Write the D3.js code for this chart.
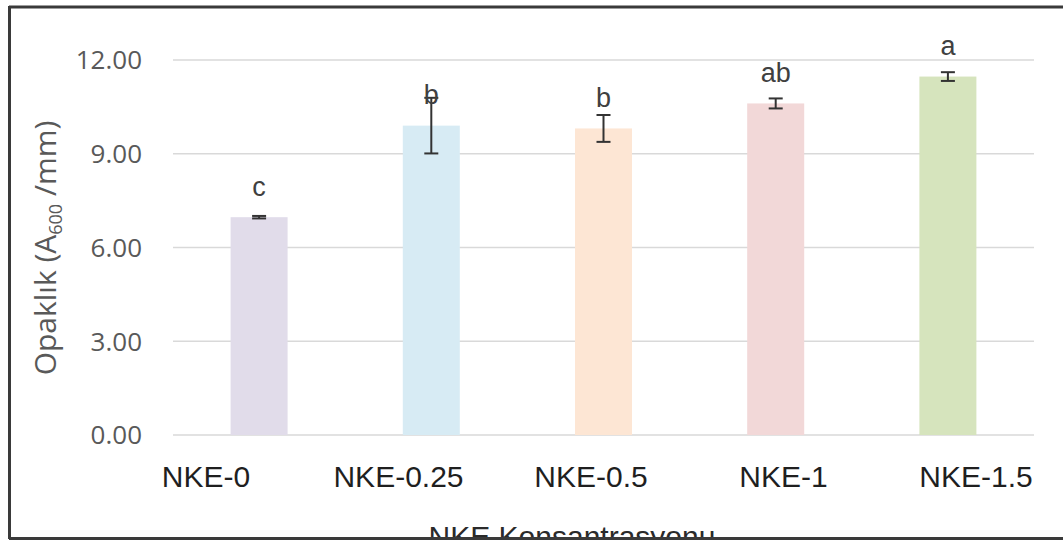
<!DOCTYPE html>
<html>
<head>
<meta charset="utf-8">
<script src="https://cdn.jsdelivr.net/npm/d3@7"></script>
<style>
  html, body { margin: 0; padding: 0; background: #fff; }
  svg { display: block; }
</style>
</head>
<body>
<svg id="chart" width="1063" height="543"></svg>
<script>
// Opacity (A600/mm) by NKE concentration, with standard deviations and significance letters
const categories = ["NKE-0", "NKE-0.25", "NKE-0.5", "NKE-1", "NKE-1.5"];
const means = [6.97, 9.90, 9.81, 10.61, 11.47];
const errors = [0.04, 0.89, 0.43, 0.16, 0.14];
const letters = ["c", "b", "b", "ab", "a"];
const yTicks = [0, 3, 6, 9, 12];
const barColors = ["#e1dcea", "#d7ebf4", "#fde6d4", "#f2d8d8", "#d6e4bd"];

const W = 1063, H = 543;
const plot = { left: 173, right: 1034, top: 60, bottom: 435 };

const svg = d3.select("#chart");

const x = d3.scaleBand()
  .domain(categories)
  .range([plot.left, plot.right])
  .paddingInner(0.669)
  .paddingOuter(0.3345);

const y = d3.scaleLinear()
  .domain([0, 12])
  .range([plot.bottom, plot.top]);

// category labels sit on their own evenly spread positions under the bars
const xLabel = d3.scalePoint()
  .domain(categories)
  .range([206, 976]);

// gridlines
svg.append("g")
  .selectAll("line")
  .data(yTicks)
  .join("line")
  .attr("x1", plot.left)
  .attr("x2", plot.right)
  .attr("y1", d => y(d))
  .attr("y2", d => y(d))
  .attr("stroke", "#d9d9d9")
  .attr("stroke-width", 1.5);

// y tick labels
svg.append("g")
  .selectAll("text")
  .data(yTicks)
  .join("text")
  .attr("x", 142)
  .attr("y", d => y(d))
  .attr("dy", "0.36em")
  .attr("text-anchor", "end")
  .attr("font-family", "'Open Sans', sans-serif")
  .attr("font-size", 26)
  .attr("fill", "#595959")
  .text(d => d3.format(".2f")(d));

// bars
svg.append("g")
  .selectAll("rect")
  .data(categories)
  .join("rect")
  .attr("x", d => x(d))
  .attr("width", x.bandwidth())
  .attr("y", (d, i) => y(means[i]))
  .attr("height", (d, i) => y(0) - y(means[i]))
  .attr("fill", (d, i) => barColors[i]);

// error bars
const eb = svg.append("g")
  .attr("stroke", "#333")
  .attr("stroke-width", 2);
categories.forEach((c, i) => {
  const cx = x(c) + x.bandwidth() / 2;
  const yHi = y(means[i] + errors[i]);
  const yLo = y(means[i] - errors[i]);
  const cap = 7;
  eb.append("line").attr("x1", cx).attr("x2", cx).attr("y1", yHi).attr("y2", yLo);
  eb.append("line").attr("x1", cx - cap).attr("x2", cx + cap).attr("y1", yHi).attr("y2", yHi);
  eb.append("line").attr("x1", cx - cap).attr("x2", cx + cap).attr("y1", yLo).attr("y2", yLo);
});

// significance letters
svg.append("g")
  .selectAll("text")
  .data(categories)
  .join("text")
  .attr("x", d => x(d) + x.bandwidth() / 2)
  .attr("y", (d, i) => y(means[i]) - 21.5)
  .attr("text-anchor", "middle")
  .attr("font-family", "'Liberation Sans', Arial, sans-serif")
  .attr("font-size", 27)
  .attr("fill", "#404040")
  .text((d, i) => letters[i]);

// category labels
svg.append("g")
  .selectAll("text")
  .data(categories)
  .join("text")
  .attr("x", d => xLabel(d))
  .attr("y", 487)
  .attr("text-anchor", "middle")
  .attr("font-family", "'Liberation Sans', Arial, sans-serif")
  .attr("font-size", 30)
  .attr("fill", "#1f1f1f")
  .text(d => d);

// y axis title with subscript
const yTitle = svg.append("text")
  .attr("transform", "translate(56,248) rotate(-90)")
  .attr("text-anchor", "middle")
  .attr("font-family", "'Open Sans', sans-serif")
  .attr("font-size", 30)
  .attr("fill", "#595959");
yTitle.append("tspan").text("Opaklık (A");
yTitle.append("tspan").attr("font-size", 18).attr("dy", 6).text("600");
yTitle.append("tspan").attr("dy", -6).text(" /mm)");

// x axis title, cut by the frame edge
svg.append("clipPath").attr("id", "frameClip")
  .append("rect").attr("x", 0).attr("y", 0).attr("width", W).attr("height", 537);
svg.append("text")
  .attr("clip-path", "url(#frameClip)")
  .attr("x", 572)
  .attr("y", 547)
  .attr("text-anchor", "middle")
  .attr("font-family", "'Liberation Sans', Arial, sans-serif")
  .attr("font-size", 30)
  .attr("fill", "#2a2a2a")
  .text("NKE Konsantrasyonu");

// frame
const frame = svg.append("g").attr("stroke", "#3a3a3a").attr("stroke-width", 3).attr("fill", "none");
frame.append("line").attr("x1", 9).attr("x2", W).attr("y1", 7).attr("y2", 7);
frame.append("line").attr("x1", 9.5).attr("x2", 9.5).attr("y1", 6).attr("y2", 539);
frame.append("line").attr("x1", 9).attr("x2", W).attr("y1", 538.5).attr("y2", 538.5);
</script>
</body>
</html>
